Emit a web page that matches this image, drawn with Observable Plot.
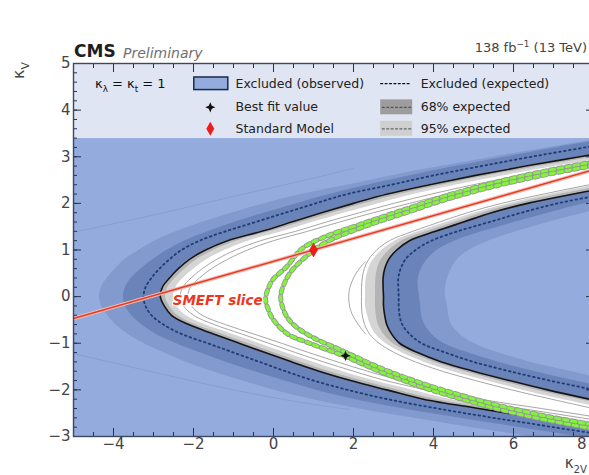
<!DOCTYPE html>
<html>
<head>
<meta charset="utf-8">
<script src="https://cdn.jsdelivr.net/npm/d3@7"></script>
<script src="https://cdn.jsdelivr.net/npm/@observablehq/plot@0.6"></script>
<style>
  html, body { margin: 0; padding: 0; background: #fff; overflow: hidden; }
  #chart { width: 589px; height: 475px; overflow: hidden; }
  #chart svg { max-width: none !important; }
</style>
</head>
<body>
<div id="chart"></div>
<script>
// κ_V scan rows for the outer (left) exclusion boundary and its bands
const yOuter = [-3.0,-2.8,-2.6,-2.4,-2.2,-2.0,-1.8,-1.6,-1.4,-1.2,-1.0,-0.8,-0.6,-0.4,-0.2,0,0.2,0.4,0.6,0.8,1.0,1.2,1.4,1.6,1.8,2.0,2.2,2.4,2.6,2.8,3.0,3.2,3.4];
// κ_2V positions along each row
const outer95Out = [6.4,4.9,3.45,2.1,0.95,0.0,-0.8,-1.55,-2.2,-2.75,-3.25,-3.65,-3.95,-4.15,-4.3,-4.35,-4.3,-4.15,-3.95,-3.7,-3.35,-2.95,-2.4,-1.75,-1.0,-0.2,0.75,1.9,3.0,4.25,5.55,6.9,8.3];
const outer68Out = [7.6,6.1,4.6,3.2,2.0,1.05,0.25,-0.5,-1.2,-1.85,-2.45,-2.95,-3.3,-3.55,-3.7,-3.75,-3.7,-3.55,-3.3,-3.0,-2.65,-2.2,-1.6,-0.95,-0.2,0.6,1.45,2.4,3.45,4.6,5.85,7.1,8.5];
const outerExpected = [8.5,7.0,5.5,4.1,2.85,1.85,1.0,0.3,-0.35,-1.0,-1.65,-2.3,-2.75,-3.05,-3.2,-3.25,-3.2,-3.05,-2.85,-2.6,-2.3,-1.85,-1.2,-0.45,0.3,1.05,1.85,2.95,4.0,5.2,6.45,7.8,9.2];
const outerObserved = [9.6,8.07,6.57,5.13,3.75,2.83,1.93,1.14,0.46,-0.21,-0.86,-1.5,-2.12,-2.55,-2.73,-2.83,-2.78,-2.6,-2.38,-2.1,-1.7,-1.15,-0.3,0.45,1.2,2.0,2.85,3.9,5.05,6.3,7.65,9.0,10.4];
const outer68In = [9.9,8.4,6.9,5.45,4.05,3.1,2.2,1.38,0.68,0.0,-0.65,-1.3,-1.95,-2.4,-2.6,-2.7,-2.64,-2.45,-2.2,-1.9,-1.48,-0.9,-0.05,0.72,1.5,2.3,3.2,4.25,5.4,6.7,8.05,9.4,10.8];
const outer95In = [10.3,8.8,7.3,5.8,4.4,3.45,2.5,1.7,0.98,0.28,-0.38,-1.05,-1.72,-2.2,-2.42,-2.5,-2.44,-2.25,-1.98,-1.65,-1.2,-0.6,0.25,1.0,1.8,2.65,3.55,4.6,5.8,7.1,8.5,9.9,11.3];
const outerContour1 = [10.7,9.2,7.7,6.2,4.75,3.8,2.8,2.0,1.25,0.55,-0.12,-0.8,-1.48,-2.0,-2.25,-2.33,-2.27,-2.06,-1.78,-1.42,-0.95,-0.32,0.55,1.32,2.15,3.0,3.95,5.0,6.2,7.5,8.9,10.3,11.7];
const outerContour2 = [11.2,9.7,8.2,6.7,5.2,4.2,3.2,2.35,1.6,0.88,0.2,-0.5,-1.2,-1.78,-2.05,-2.14,-2.08,-1.85,-1.55,-1.15,-0.65,0.0,0.85,1.65,2.5,3.4,4.35,5.45,6.65,8.0,9.4,10.8,12.2];

// κ_V scan rows for the inner (right) exclusion island
const yInner = [-2.4,-2.2,-2.0,-1.8,-1.6,-1.4,-1.2,-1.0,-0.8,-0.6,-0.4,-0.2,0,0.2,0.4,0.6,0.8,1.0,1.2,1.4,1.6,1.8,2.0,2.2,2.4,2.6];
const inner95In = [8.3,7.2,6.2,5.3,4.45,3.75,3.2,2.8,2.55,2.42,2.35,2.3,2.3,2.3,2.32,2.38,2.5,2.72,3.05,3.65,4.35,5.05,5.9,6.95,8.1,9.3];
const inner68In = [8.7,7.6,6.55,5.6,4.75,4.0,3.4,2.98,2.75,2.62,2.57,2.55,2.55,2.55,2.56,2.6,2.7,2.9,3.22,3.85,4.55,5.25,6.1,7.2,8.4,9.6];
const innerObserved = [9.0,7.9,6.85,5.9,5.0,4.2,3.6,3.15,2.95,2.83,2.78,2.75,2.75,2.74,2.74,2.78,2.88,3.08,3.4,4.05,4.75,5.45,6.35,7.5,8.7,9.9];
const innerExpected = [10.2,9.0,8.0,6.9,5.9,5.0,4.3,3.7,3.4,3.22,3.15,3.13,3.13,3.12,3.12,3.18,3.3,3.55,3.95,4.6,5.4,6.2,7.1,8.3,9.5,10.7];
const inner68Out = [10.8,9.6,8.6,7.5,6.5,5.6,4.85,4.25,3.95,3.78,3.7,3.68,3.65,3.62,3.62,3.7,3.85,4.1,4.55,5.25,6.05,6.9,7.8,9.0,10.2,11.4];
const inner95Out = [11.6,10.5,9.5,8.4,7.4,6.4,5.6,5.0,4.65,4.45,4.38,4.35,4.3,4.3,4.35,4.45,4.6,4.9,5.4,6.1,6.9,7.8,8.8,10.0,11.2,12.4];
const innerContour = [8.0,6.95,5.95,5.05,4.22,3.55,3.02,2.64,2.4,2.28,2.22,2.2,2.2,2.2,2.22,2.27,2.38,2.58,2.9,3.48,4.15,4.85,5.7,6.75,7.9,9.1];
// small closed contour inside the allowed band
const loopX = [2.3,2.1,1.93,1.88,1.93,2.08,2.3];
const loopY = [0.75,0.55,0.25,0.0,-0.3,-0.55,-0.8];

// faint cross-section isolines in the excluded region
const isoUpX = [-5,-3,-1,0.7,2.0];
const isoUpY = [1.38,1.75,2.15,2.48,2.75];
const isoLowX = [-5,-3,-1,0.7,1.9];
const isoLowY = [-1.22,-1.62,-2.0,-2.27,-2.42];

// best-fit valley (two sides of the narrow contour)
const fitOuterX = [8.2,7.75,6.5,5.4,4.3,3.35,2.2,1.25,0.7,0.35,0.0,-0.12,-0.2,-0.12,0.0,0.35,0.9,1.75,2.7,3.75,4.75,5.75,6.8,7.85,8.2];
const fitOuterY = [2.92,2.85,2.64,2.42,2.16,1.89,1.56,1.27,1.02,0.66,0.38,0.2,-0.05,-0.3,-0.5,-0.8,-1.0,-1.27,-1.62,-1.95,-2.21,-2.44,-2.64,-2.81,-2.87];
const fitInnerX = [8.2,7.75,6.5,5.4,4.3,3.35,2.2,1.3,0.8,0.45,0.3,0.18,0.3,0.5,0.95,1.75,2.7,3.75,4.75,5.75,6.8,7.85,8.2];
const fitInnerY = [2.84,2.77,2.56,2.34,2.08,1.81,1.48,1.16,0.85,0.55,0.34,0.0,-0.38,-0.6,-0.86,-1.17,-1.54,-1.87,-2.13,-2.36,-2.56,-2.73,-2.79];

// SMEFT slice through the plane
const smeftX = [-5, 8];
const smeftY = [-0.47, 2.72];

// reference points
const smPoint = {x: 1.0, y: 1.0};
const bestFit = {x: 1.8, y: -1.27};

// axis ticks and legend text
const xTickLabels = [-4, -2, 0, 2, 4, 6, 8];
const yTickLabels = [-3, -2, -1, 0, 1, 2, 3, 4, 5];
const xMinorTicks = [-4.5,-3.5,-3,-2.5,-1.5,-1,-0.5,0.5,1,1.5,2.5,3,3.5,4.5,5,5.5,6.5,7,7.5];
const yMinorTicks = d3.range(-3, 5.001, 0.2).map(v => +v.toFixed(1));
const legendLeft = ["Excluded (observed)", "Best fit value", "Standard Model"];
const legendRight = ["Excluded (expected)", "68% expected", "95% expected"];

const outerRows = yOuter.map((y, i) => ({
  y, o95a: outer95Out[i], o68a: outer68Out[i], oExp: outerExpected[i], oObs: outerObserved[i],
  o68b: outer68In[i], o95b: outer95In[i], c1: outerContour1[i], c2: outerContour2[i]
}));
const innerRows = yInner.map((y, i) => ({
  y, i95a: inner95In[i], i68a: inner68In[i], iObs: innerObserved[i], iExp: innerExpected[i],
  i68b: inner68Out[i], i95b: inner95Out[i], ic: innerContour[i]
}));
const pts = (xs, ys) => xs.map((x, i) => ({x, y: ys[i]}));
// the last x label sits at the right frame edge; it is drawn end-anchored so it stays on the page
const xLabelsInner = xTickLabels.slice(0, -1);
const xLabelEdge = xTickLabels.slice(-1);

const blue = "#93abdd";
const navy = "#1f3a78";
const grey95 = "#d5d5d5";
const grey68 = "#b4b4b4";
const thin = "#9c9c9c";
const dots = "#1d3c78";
const curve = "catmull-rom";

// four-pointed star used for the best-fit marker
const star4 = {
  draw(ctx, size) {
    const r = Math.sqrt(size) * 0.95, q = r * 0.3;
    ctx.moveTo(0, -r); ctx.lineTo(q, -q); ctx.lineTo(r, 0); ctx.lineTo(q, q);
    ctx.lineTo(0, r); ctx.lineTo(-q, q); ctx.lineTo(-r, 0); ctx.lineTo(-q, -q); ctx.closePath();
  }
};

const fitLine = (data) => [
  Plot.line(data, {x: "x", y: "y", stroke: "#969696", strokeWidth: 5, strokeDasharray: "4,4", strokeLinecap: "round", curve, clip: true}),
  Plot.line(data, {x: "x", y: "y", stroke: "#80f53a", strokeWidth: 3.2, strokeDasharray: "4,4", strokeLinecap: "round", curve, clip: true})
];

const plot = Plot.plot({
  width: 620,
  height: 475,
  marginLeft: 73,
  marginRight: 27,
  marginTop: 63,
  marginBottom: 39,
  x: {domain: [-5, 8], label: null},
  y: {domain: [-3, 5], label: null},
  style: {fontFamily: "DejaVu Sans, sans-serif", fontSize: "12.5px", background: "white", overflow: "visible"},
  marks: [
    // observed exclusion
    Plot.areaX(outerRows, {y: "y", x1: -6, x2: "oObs", fill: blue, curve, clip: true}),
    Plot.areaX(innerRows, {y: "y", x1: "iObs", x2: 14, fill: blue, curve, clip: true}),
    // expected bands on the allowed side (grey)
    Plot.areaX(outerRows, {y: "y", x1: "oObs", x2: "o95b", fill: grey95, curve, clip: true}),
    Plot.areaX(outerRows, {y: "y", x1: "oObs", x2: "o68b", fill: grey68, curve, clip: true}),
    Plot.areaX(innerRows, {y: "y", x1: "i95a", x2: "iObs", fill: grey95, curve, clip: true}),
    Plot.areaX(innerRows, {y: "y", x1: "i68a", x2: "iObs", fill: grey68, curve, clip: true}),
    // expected bands on the excluded side (darker blue)
    Plot.areaX(outerRows, {y: "y", x1: "o95a", x2: "oObs", fill: navy, fillOpacity: 0.15, curve, clip: true}),
    Plot.areaX(outerRows, {y: "y", x1: "o68a", x2: "oObs", fill: navy, fillOpacity: 0.24, curve, clip: true}),
    Plot.areaX(innerRows, {y: "y", x1: "iObs", x2: "i95b", fill: navy, fillOpacity: 0.15, curve, clip: true}),
    Plot.areaX(innerRows, {y: "y", x1: "iObs", x2: "i68b", fill: navy, fillOpacity: 0.24, curve, clip: true}),
    // faint isolines
    Plot.line(pts(isoUpX, isoUpY), {x: "x", y: "y", stroke: "#6f88bb", strokeOpacity: 0.35, strokeWidth: 1, curve, clip: true}),
    Plot.line(pts(isoLowX, isoLowY), {x: "x", y: "y", stroke: "#6f88bb", strokeOpacity: 0.35, strokeWidth: 1, curve, clip: true}),
    // thin likelihood contours
    Plot.line(outerRows, {x: "c1", y: "y", stroke: thin, strokeWidth: 0.9, curve, clip: true}),
    Plot.line(outerRows, {x: "c2", y: "y", stroke: thin, strokeWidth: 0.9, curve, clip: true}),
    Plot.line(innerRows, {x: "ic", y: "y", stroke: thin, strokeWidth: 0.9, curve, clip: true}),
    Plot.line(pts(loopX, loopY), {x: "x", y: "y", stroke: thin, strokeWidth: 0.9, curve, clip: true}),
    // expected and observed boundaries
    Plot.line(outerRows, {x: "oExp", y: "y", stroke: dots, strokeWidth: 1.8, strokeDasharray: "1.6,3.4", strokeLinecap: "round", curve, clip: true}),
    Plot.line(innerRows, {x: "iExp", y: "y", stroke: dots, strokeWidth: 1.8, strokeDasharray: "1.6,3.4", strokeLinecap: "round", curve, clip: true}),
    Plot.line(outerRows, {x: "oObs", y: "y", stroke: "#151515", strokeWidth: 1.6, curve, clip: true}),
    Plot.line(innerRows, {x: "iObs", y: "y", stroke: "#151515", strokeWidth: 1.6, curve, clip: true}),
    // best-fit valley
    ...fitLine(pts(fitOuterX, fitOuterY)),
    ...fitLine(pts(fitInnerX, fitInnerY)),
    // SMEFT slice
    Plot.line(pts(smeftX, smeftY), {x: "x", y: "y", stroke: "#f7b9b0", strokeWidth: 3.6, clip: true}),
    Plot.line(pts(smeftX, smeftY), {x: "x", y: "y", stroke: "#e63a22", strokeWidth: 1.4, clip: true}),
    Plot.text(["SMEFT slice"], {x: -2.52, y: -0.08, text: d => d, textAnchor: "start", fill: "#ee3520", stroke: "white", strokeWidth: 2.5, paintOrder: "stroke", fontWeight: "bold", fontStyle: "italic", fontSize: 13.5}),
    // markers
    Plot.dot([smPoint], {x: "x", y: "y", symbol: "diamond", r: 4.2, fill: "#ee1d1d", stroke: "#c81010", strokeWidth: 0.5}),
    Plot.dot([bestFit], {x: "x", y: "y", symbol: star4, r: 3, fill: "#111"}),
    // legend panel
    Plot.rect([0], {x1: -5, x2: 8, y1: 3.39, y2: 5, fill: "#dfe5f2"}),
    Plot.rect([0], {x1: -1.98, x2: -1.13, y1: 4.43, y2: 4.70, fill: blue, stroke: "#1c2a48", strokeWidth: 1.5}),
    Plot.dot([0], {x: -1.58, y: 4.06, symbol: star4, r: 3, fill: "#111"}),
    Plot.dot([0], {x: -1.58, y: 3.6, symbol: "diamond", r: 4.2, fill: "#ee1d1d"}),
    Plot.text(legendLeft, {x: -0.95, y: [4.57, 4.06, 3.6], text: d => d, textAnchor: "start", fill: "#222", fontSize: 12.5}),
    Plot.rect([0], {x1: 2.68, x2: 3.48, y1: 3.9, y2: 4.22, fill: "#9d9d9d"}),
    Plot.rect([0], {x1: 2.68, x2: 3.48, y1: 3.44, y2: 3.76, fill: "#cfcfcf"}),
    Plot.line(pts([2.68, 3.43], [4.57, 4.57]), {x: "x", y: "y", stroke: "#111", strokeWidth: 1.3, strokeDasharray: "2,2.4"}),
    Plot.line(pts([2.72, 3.44], [4.06, 4.06]), {x: "x", y: "y", stroke: "#555", strokeWidth: 1.3, strokeDasharray: "2,2.4"}),
    Plot.line(pts([2.72, 3.44], [3.6, 3.6]), {x: "x", y: "y", stroke: "#666", strokeWidth: 1.3, strokeDasharray: "2,2.4"}),
    Plot.text(legendRight, {x: 3.68, y: [4.57, 4.06, 3.6], text: d => d, textAnchor: "start", fill: "#222", fontSize: 12.5}),
    // inward ticks on all four sides
    Plot.axisX({anchor: "bottom", ticks: xTickLabels, tickSize: -8, tickFormat: () => "", color: "#25324f"}),
    Plot.axisX({anchor: "bottom", ticks: xMinorTicks, tickSize: -4, tickFormat: () => "", color: "#25324f"}),
    Plot.axisX({anchor: "top", ticks: xTickLabels, tickSize: -8, tickFormat: () => "", color: "#25324f"}),
    Plot.axisX({anchor: "top", ticks: xMinorTicks, tickSize: -4, tickFormat: () => "", color: "#25324f"}),
    Plot.axisY({anchor: "left", ticks: yTickLabels, tickSize: -8, tickFormat: () => "", color: "#25324f"}),
    Plot.axisY({anchor: "left", ticks: yMinorTicks, tickSize: -4, tickFormat: () => "", color: "#25324f"}),
    Plot.axisY({anchor: "right", ticks: yTickLabels, tickSize: -8, tickFormat: () => "", color: "#25324f"}),
    Plot.axisY({anchor: "right", ticks: yMinorTicks, tickSize: -4, tickFormat: () => "", color: "#25324f"}),
    // tick labels
    Plot.axisX({anchor: "bottom", ticks: xLabelsInner, tickSize: 0, tickPadding: 2, fontSize: 15, color: "#444", label: null}),
    Plot.text(xLabelEdge, {x: d => d, frameAnchor: "bottom", lineAnchor: "top", textAnchor: "end", dx: -7, dy: 2, text: d => String(d), fontSize: 15, fill: "#444"}),
    Plot.axisY({anchor: "left", ticks: yTickLabels, tickSize: 0, tickPadding: 3, fontSize: 15, color: "#444", label: null}),
    Plot.frame({stroke: "#3d4761", strokeWidth: 1.4})
  ]
});

plot.style.maxWidth = "none";
plot.style.width = "620px";
plot.style.height = "475px";
document.getElementById("chart").appendChild(plot);

// text with sub/superscripts, placed from the plot's own scales
const svg = d3.select(plot);
const sx = plot.scale("x"), sy = plot.scale("y");
function richText(x, y, parts, opt = {}) {
  const size = opt.size || 13;
  const t = svg.append("text")
    .attr("x", x).attr("y", y)
    .attr("font-size", size)
    .attr("font-family", "DejaVu Sans, sans-serif")
    .attr("font-weight", opt.weight || "normal")
    .attr("font-style", opt.style || "normal")
    .attr("fill", opt.fill || "#222")
    .attr("text-anchor", opt.anchor || "start");
  if (opt.transform) t.attr("transform", opt.transform);
  let shift = 0;
  for (const p of parts) {
    const target = p.sub ? size * 0.3 : p.sup ? -size * 0.42 : 0;
    const ts = t.append("tspan").text(p.t).attr("dy", target - shift);
    if (p.sub || p.sup) ts.attr("font-size", size * 0.68);
    shift = target;
  }
  return t;
}

const left = sx.apply(-5);
const visibleRight = 587;
richText(left + 1, 57, [{t: "CMS"}], {size: 17, weight: "bold", fill: "#1e1e1e"});
richText(left + 50, 57.5, [{t: "Preliminary"}], {size: 14, style: "italic", fill: "#707070"});
richText(visibleRight, 52, [{t: "138 fb"}, {t: "\u22121", sup: true}, {t: " (13 TeV)"}], {size: 13, anchor: "end", fill: "#444"});
richText(sx.apply(-4.45), sy.apply(4.57) + 5, [{t: "\u03ba"}, {t: "\u03bb", sub: true}, {t: " = \u03ba"}, {t: "t", sub: true}, {t: " = 1"}], {size: 13, fill: "#111"});
richText(0, 0, [{t: "\u03ba"}, {t: "V", sub: true}], {size: 16, anchor: "end", fill: "#444", transform: `translate(24,${sy.apply(5) - 1}) rotate(-90)`});
richText(visibleRight, 468, [{t: "\u03ba"}, {t: "2V", sub: true}], {size: 15, anchor: "end", fill: "#444"});
</script>
</body>
</html>
